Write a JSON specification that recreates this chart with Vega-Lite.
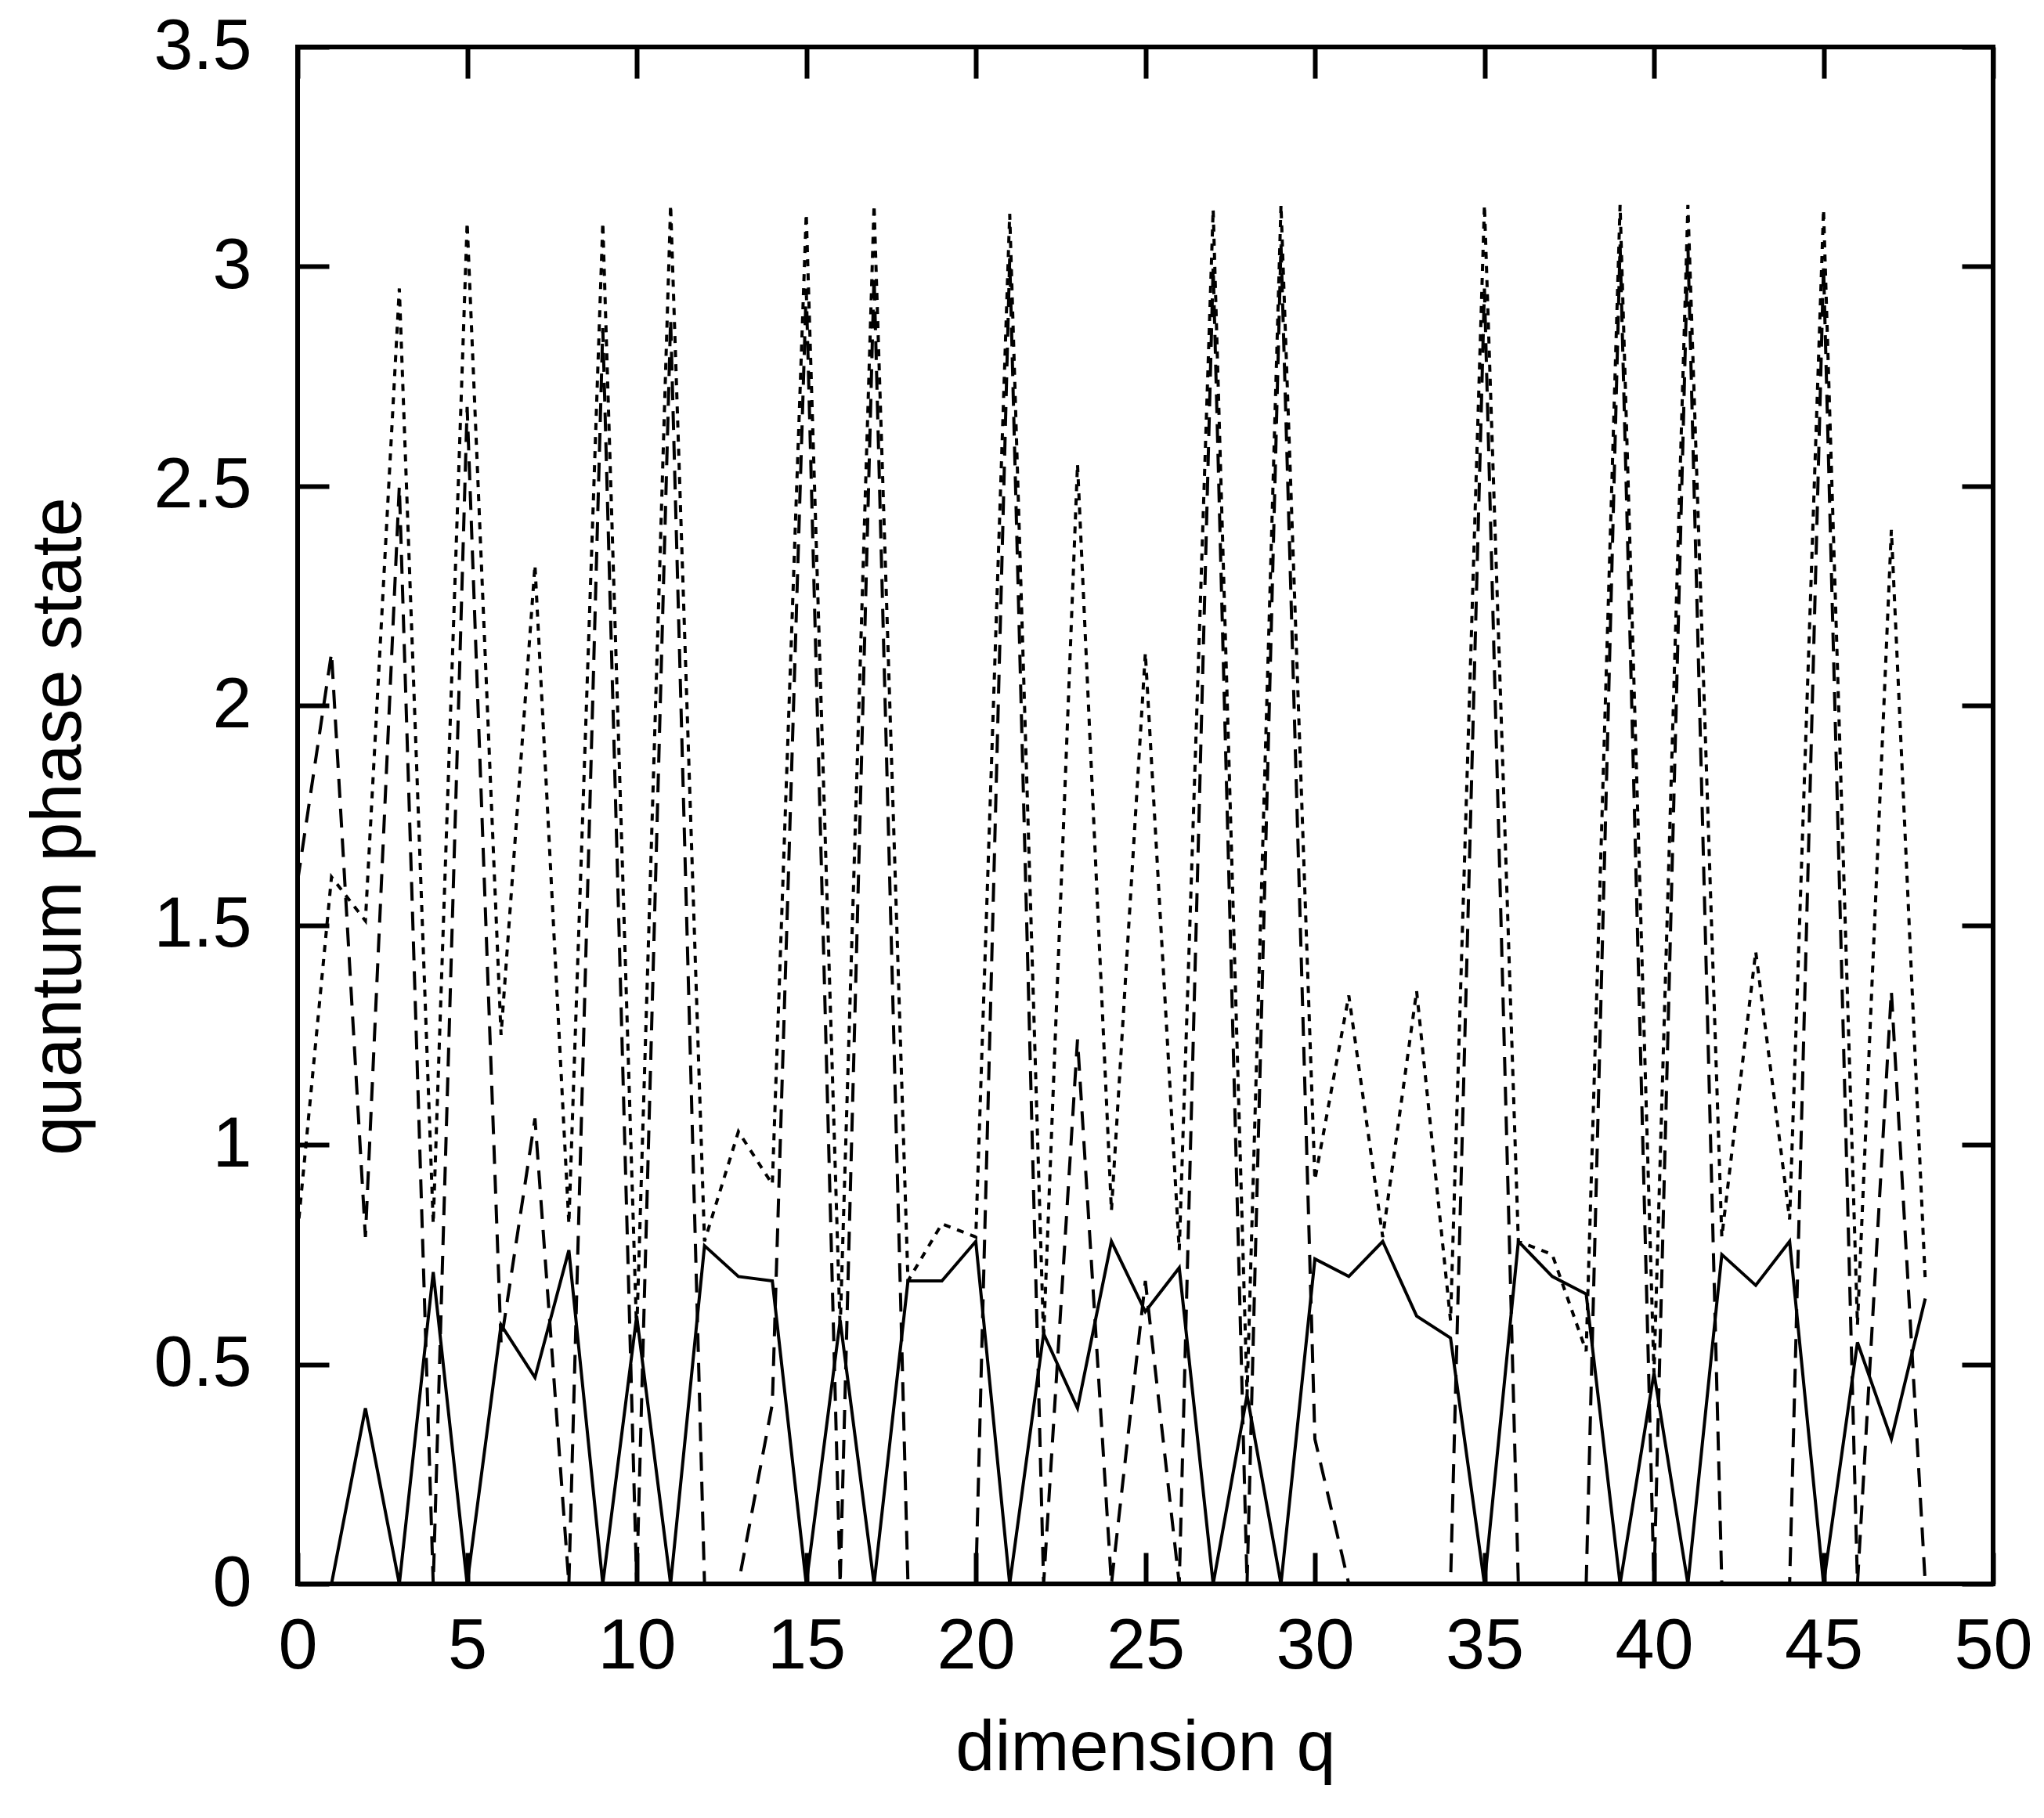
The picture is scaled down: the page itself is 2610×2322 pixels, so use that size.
{
  "$schema": "https://vega.github.io/schema/vega-lite/v6.json",
  "width": 2165,
  "height": 1963,
  "autosize": {"type": "none"},
  "padding": {"left": 380, "top": 60, "right": 65, "bottom": 299},
  "background": "white",
  "config": {
    "font": "Liberation Sans",
    "view": {"stroke": "black", "strokeWidth": 6},
    "axis": {
      "domain": false,
      "grid": false,
      "tickColor": "black",
      "tickWidth": 6,
      "tickSize": -40,
      "labelFlush": false,
      "labelOverlap": false,
      "labelColor": "black",
      "labelFontSize": 90,
      "labelFont": "Liberation Sans",
      "titleColor": "black",
      "titleFontSize": 90,
      "titleFont": "Liberation Sans",
      "titleFontWeight": "normal"
    }
  },
  "data": {
    "values": [
      {"q": 1, "s": "a", "v": 0}, {"q": 2, "s": "a", "v": 0.40}, {"q": 3, "s": "a", "v": 0}, {"q": 4, "s": "a", "v": 0.71},
      {"q": 5, "s": "a", "v": 0}, {"q": 6, "s": "a", "v": 0.59}, {"q": 7, "s": "a", "v": 0.47}, {"q": 8, "s": "a", "v": 0.76},
      {"q": 9, "s": "a", "v": 0}, {"q": 10, "s": "a", "v": 0.61}, {"q": 11, "s": "a", "v": 0}, {"q": 12, "s": "a", "v": 0.77},
      {"q": 13, "s": "a", "v": 0.70}, {"q": 14, "s": "a", "v": 0.69}, {"q": 15, "s": "a", "v": 0}, {"q": 16, "s": "a", "v": 0.60},
      {"q": 17, "s": "a", "v": 0}, {"q": 18, "s": "a", "v": 0.69}, {"q": 19, "s": "a", "v": 0.69}, {"q": 20, "s": "a", "v": 0.78},
      {"q": 21, "s": "a", "v": 0}, {"q": 22, "s": "a", "v": 0.57}, {"q": 23, "s": "a", "v": 0.40}, {"q": 24, "s": "a", "v": 0.78},
      {"q": 25, "s": "a", "v": 0.62}, {"q": 26, "s": "a", "v": 0.72}, {"q": 27, "s": "a", "v": 0}, {"q": 28, "s": "a", "v": 0.43},
      {"q": 29, "s": "a", "v": 0}, {"q": 30, "s": "a", "v": 0.74}, {"q": 31, "s": "a", "v": 0.70}, {"q": 32, "s": "a", "v": 0.78},
      {"q": 33, "s": "a", "v": 0.61}, {"q": 34, "s": "a", "v": 0.56}, {"q": 35, "s": "a", "v": 0}, {"q": 36, "s": "a", "v": 0.78},
      {"q": 37, "s": "a", "v": 0.70}, {"q": 38, "s": "a", "v": 0.66}, {"q": 39, "s": "a", "v": 0}, {"q": 40, "s": "a", "v": 0.48},
      {"q": 41, "s": "a", "v": 0}, {"q": 42, "s": "a", "v": 0.75}, {"q": 43, "s": "a", "v": 0.68}, {"q": 44, "s": "a", "v": 0.78},
      {"q": 45, "s": "a", "v": 0}, {"q": 46, "s": "a", "v": 0.55}, {"q": 47, "s": "a", "v": 0.33}, {"q": 48, "s": "a", "v": 0.65},

      {"q": 0, "s": "b", "v": 1.60}, {"q": 1, "s": "b", "v": 2.12}, {"q": 2, "s": "b", "v": 0.79}, {"q": 3, "s": "b", "v": 2.50},
      {"q": 4, "s": "b", "v": 0}, {"q": 5, "s": "b", "v": 2.68}, {"q": 6, "s": "b", "v": 0.55}, {"q": 7, "s": "b", "v": 1.06},
      {"q": 8, "s": "b", "v": 0}, {"q": 9, "s": "b", "v": 2.86}, {"q": 10, "s": "b", "v": 0}, {"q": 11, "s": "b", "v": 2.88},
      {"q": 12, "s": "b", "v": 0}, {"q": 13, "s": "b", "v": 0}, {"q": 14, "s": "b", "v": 0.41}, {"q": 15, "s": "b", "v": 2.95},
      {"q": 16, "s": "b", "v": 0}, {"q": 17, "s": "b", "v": 2.98}, {"q": 18, "s": "b", "v": 0}, {"q": 19, "s": "b", "v": 0},
      {"q": 20, "s": "b", "v": 0}, {"q": 21, "s": "b", "v": 3.02}, {"q": 22, "s": "b", "v": 0}, {"q": 23, "s": "b", "v": 1.24},
      {"q": 24, "s": "b", "v": 0}, {"q": 25, "s": "b", "v": 0.69}, {"q": 26, "s": "b", "v": 0}, {"q": 27, "s": "b", "v": 3.00},
      {"q": 28, "s": "b", "v": 0}, {"q": 29, "s": "b", "v": 3.05}, {"q": 30, "s": "b", "v": 0.33}, {"q": 31, "s": "b", "v": 0},
      {"q": 32, "s": "b", "v": 0}, {"q": 33, "s": "b", "v": 0}, {"q": 34, "s": "b", "v": 0}, {"q": 35, "s": "b", "v": 2.95},
      {"q": 36, "s": "b", "v": 0}, {"q": 37, "s": "b", "v": 0}, {"q": 38, "s": "b", "v": 0}, {"q": 39, "s": "b", "v": 3.05},
      {"q": 40, "s": "b", "v": 0}, {"q": 41, "s": "b", "v": 3.05}, {"q": 42, "s": "b", "v": 0}, {"q": 43, "s": "b", "v": 0},
      {"q": 44, "s": "b", "v": 0}, {"q": 45, "s": "b", "v": 3.00}, {"q": 46, "s": "b", "v": 0}, {"q": 47, "s": "b", "v": 1.35},
      {"q": 48, "s": "b", "v": 0},

      {"q": 0, "s": "c", "v": 0.80}, {"q": 1, "s": "c", "v": 1.61}, {"q": 2, "s": "c", "v": 1.51}, {"q": 3, "s": "c", "v": 2.95},
      {"q": 4, "s": "c", "v": 0.82}, {"q": 5, "s": "c", "v": 3.10}, {"q": 6, "s": "c", "v": 1.25}, {"q": 7, "s": "c", "v": 2.32},
      {"q": 8, "s": "c", "v": 0.82}, {"q": 9, "s": "c", "v": 3.10}, {"q": 10, "s": "c", "v": 0.57}, {"q": 11, "s": "c", "v": 3.14},
      {"q": 12, "s": "c", "v": 0.78}, {"q": 13, "s": "c", "v": 1.03}, {"q": 14, "s": "c", "v": 0.91}, {"q": 15, "s": "c", "v": 3.12},
      {"q": 16, "s": "c", "v": 0.58}, {"q": 17, "s": "c", "v": 3.14}, {"q": 18, "s": "c", "v": 0.69}, {"q": 19, "s": "c", "v": 0.82},
      {"q": 20, "s": "c", "v": 0.79}, {"q": 21, "s": "c", "v": 3.12}, {"q": 22, "s": "c", "v": 0.56}, {"q": 23, "s": "c", "v": 2.55},
      {"q": 24, "s": "c", "v": 0.85}, {"q": 25, "s": "c", "v": 2.12}, {"q": 26, "s": "c", "v": 0.76}, {"q": 27, "s": "c", "v": 3.13},
      {"q": 28, "s": "c", "v": 0.43}, {"q": 29, "s": "c", "v": 3.14}, {"q": 30, "s": "c", "v": 0.92}, {"q": 31, "s": "c", "v": 1.34},
      {"q": 32, "s": "c", "v": 0.79}, {"q": 33, "s": "c", "v": 1.35}, {"q": 34, "s": "c", "v": 0.60}, {"q": 35, "s": "c", "v": 3.14},
      {"q": 36, "s": "c", "v": 0.78}, {"q": 37, "s": "c", "v": 0.75}, {"q": 38, "s": "c", "v": 0.53}, {"q": 39, "s": "c", "v": 3.14},
      {"q": 40, "s": "c", "v": 0.48}, {"q": 41, "s": "c", "v": 3.14}, {"q": 42, "s": "c", "v": 0.79}, {"q": 43, "s": "c", "v": 1.44},
      {"q": 44, "s": "c", "v": 0.83}, {"q": 45, "s": "c", "v": 3.13}, {"q": 46, "s": "c", "v": 0.59}, {"q": 47, "s": "c", "v": 2.40},
      {"q": 48, "s": "c", "v": 0.69}
    ]
  },
  "layer": [
    {
      "transform": [{"filter": "datum.s === 'a'"}],
      "mark": {"type": "line", "color": "black", "strokeWidth": 4, "strokeCap": "butt", "clip": true},
      "encoding": {
        "x": {
          "field": "q", "type": "quantitative",
          "scale": {"domain": [0, 50], "nice": false, "zero": false},
          "axis": {
            "orient": "bottom", "values": [0, 5, 10, 15, 20, 25, 30, 35, 40, 45, 50],
            "format": "d", "labelPadding": 76, "title": "dimension q",
            "titleY": 237, "titleBaseline": "alphabetic"
          }
        },
        "y": {
          "field": "v", "type": "quantitative",
          "scale": {"domain": [0, 3.5], "nice": false},
          "axis": {
            "orient": "left", "values": [0, 0.5, 1, 1.5, 2, 2.5, 3, 3.5],
            "format": ".1~f", "labelPadding": 99, "title": "quantum phase state",
            "titleX": -305, "titleY": 995, "titleAngle": -90,
            "titleAlign": "center", "titleBaseline": "middle"
          }
        }
      }
    },
    {
      "transform": [{"filter": "datum.s !== 'a'"}],
      "mark": {"type": "line", "color": "black", "strokeWidth": 4, "strokeCap": "butt", "clip": true},
      "encoding": {
        "x": {
          "field": "q", "type": "quantitative",
          "axis": {"orient": "top", "values": [0, 5, 10, 15, 20, 25, 30, 35, 40, 45, 50], "labels": false, "title": null}
        },
        "y": {
          "field": "v", "type": "quantitative",
          "axis": {"orient": "right", "values": [0, 0.5, 1, 1.5, 2, 2.5, 3, 3.5], "labels": false, "title": null}
        },
        "detail": {"field": "s", "type": "nominal"},
        "strokeDash": {
          "field": "s", "type": "nominal",
          "scale": {"domain": ["b", "c"], "range": [[24, 14], [9, 9]]},
          "legend": null
        }
      }
    }
  ],
  "resolve": {"axis": {"x": "independent", "y": "independent"}}
}
